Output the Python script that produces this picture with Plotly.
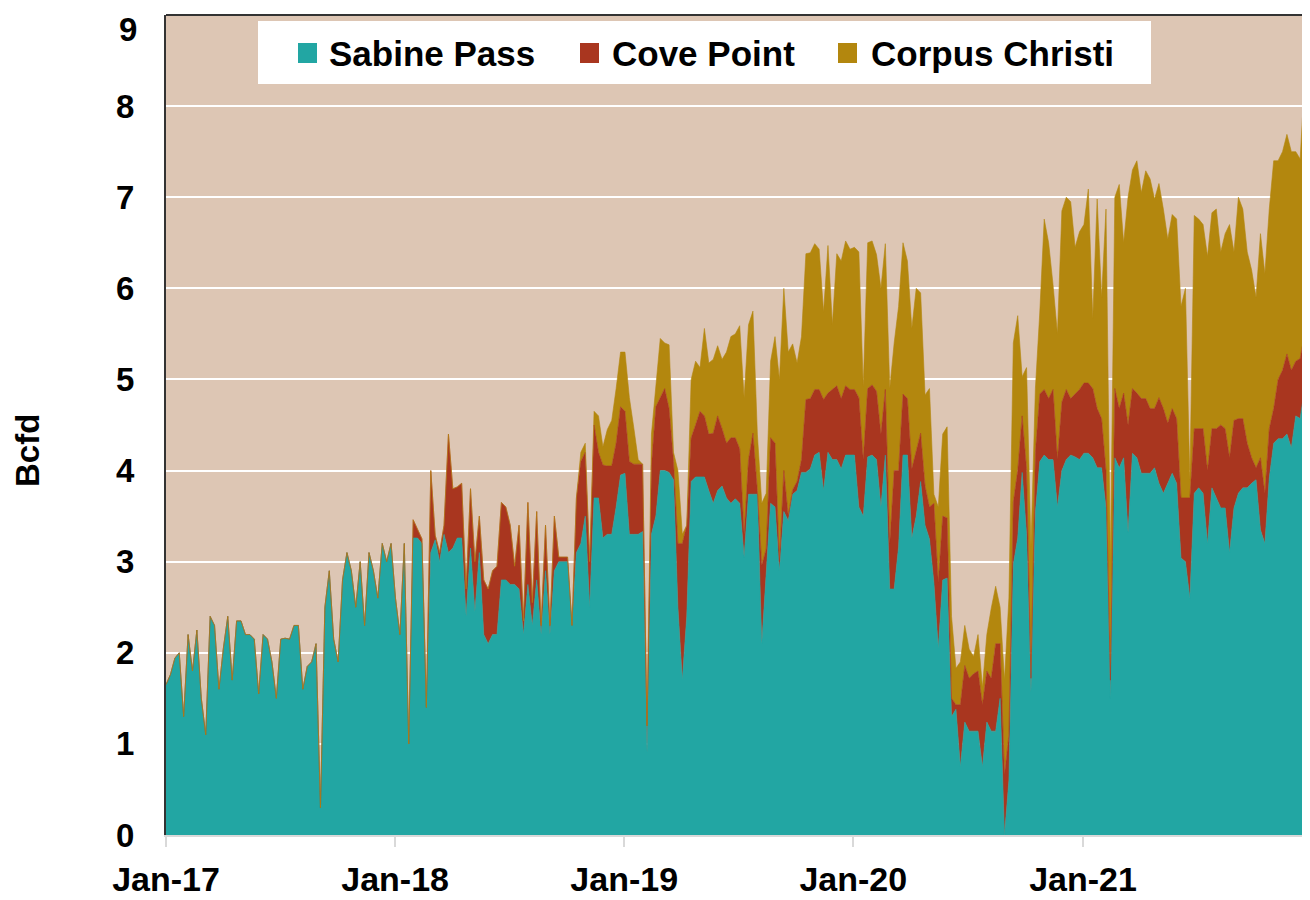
import pandas as pd
import plotly.graph_objects as go

# ---------------- data (Bcfd, roughly weekly readings) ----------------
series_names = ["Sabine Pass", "Cove Point", "Corpus Christi"]
series_colors = ["#22A6A3", "#A9361F", "#B3870E"]
year_ticks = ["2017-01-01", "2018-01-01", "2019-01-01", "2020-01-01", "2021-01-01"]
y_tick_values = [0, 1, 2, 3, 4, 5, 6, 7, 8, 9]

sabine_2017 = [1.65, 1.76, 1.94, 2.0, 1.3, 2.2, 1.8, 2.25, 1.5, 1.1, 2.4, 2.3, 1.6, 2.05, 2.4, 1.7,
               2.35, 2.35, 2.2, 2.2, 2.15, 1.55, 2.2, 2.15, 1.9, 1.5, 2.15, 2.16, 2.15, 2.3, 2.3, 1.6,
               1.85, 1.9, 2.1, 0.3, 2.5, 2.9, 2.15, 1.9, 2.8, 3.1, 2.9, 2.5, 3.0, 2.3, 3.1, 2.9,
               2.6, 3.2, 3.0, 3.2, 2.6]
cove_2017 = [0, 0, 0, 0, 0, 0, 0, 0, 0, 0, 0, 0, 0, 0, 0, 0, 0, 0, 0, 0, 0, 0, 0, 0, 0, 0, 0,
             0, 0, 0, 0, 0, 0, 0, 0, 0, 0, 0, 0, 0, 0, 0, 0, 0, 0, 0, 0, 0, 0, 0, 0, 0, 0]
corpus_2017 = [0, 0, 0, 0, 0, 0, 0, 0, 0, 0, 0, 0, 0, 0, 0, 0, 0, 0, 0, 0, 0, 0, 0, 0, 0, 0, 0,
               0, 0, 0, 0, 0, 0, 0, 0, 0, 0, 0, 0, 0, 0, 0, 0, 0, 0, 0, 0, 0, 0, 0, 0, 0, 0]

sabine_2018 = [2.2, 3.2, 1.0, 3.26, 3.26, 3.2, 1.4, 3.1, 3.24, 3.0, 3.3, 3.1, 3.15, 3.26, 3.26, 2.4,
               3.15, 2.45, 3.1, 2.2, 2.1, 2.2, 2.2, 2.8, 2.8, 2.75, 2.75, 2.7, 2.2, 2.75, 2.3, 2.8,
               2.2, 2.9, 2.2, 2.9, 3.0, 3.0, 3.0, 2.3, 3.1, 3.2, 3.5, 2.5, 3.7, 3.7, 3.26, 3.3,
               3.3, 3.6, 3.95]
cove_2018 = [0, 0, 0, 0.2, 0.1, 0.05, 0, 0.9, 0.05, 0.1, 0.1, 1.3, 0.65, 0.56, 0.6, 0.3, 0.65,
             0.55, 0.4, 0.6, 0.6, 0.7, 0.75, 0.85, 0.8, 0.65, 0.2, 0.7, 0.15, 0.9, 0.25, 0.75, 0.1,
             0.5, 0.1, 0.6, 0.05, 0.05, 0.05, 0, 0.6, 0.9, 0.7, 0.5, 0.8, 0.5, 0.8, 0.75, 0.75,
             0.7, 0.75]
corpus_2018 = [0, 0, 0, 0, 0, 0, 0, 0, 0, 0, 0, 0, 0, 0, 0, 0, 0, 0, 0, 0, 0, 0, 0, 0, 0, 0, 0,
               0, 0, 0, 0, 0, 0, 0, 0, 0, 0, 0, 0, 0, 0, 0.1, 0.1, 0, 0.15, 0.4, 0.2, 0.4, 0.5,
               0.6, 0.6]

sabine_2019 = [3.97, 3.3, 3.3, 3.3, 3.33, 0.9, 3.3, 3.5, 4.0, 4.0, 3.98, 3.9, 2.5, 1.7, 2.4, 3.88,
               3.93, 3.93, 3.93, 3.78, 3.64, 3.78, 3.83, 3.7, 3.64, 3.69, 3.64, 3.05, 3.74, 3.74,
               3.74, 2.1, 2.9, 3.64, 3.6, 2.9, 3.55, 3.45, 3.74, 3.78, 3.98, 3.98, 4.02, 4.17, 4.2,
               3.78, 4.2, 4.12, 4.12, 4.02, 4.17, 4.17]
cove_2019 = [0.68, 0.8, 0.77, 0.77, 0.74, 0.3, 0.75, 1.2, 0.8, 0.9, 0.7, 0.2, 0.7, 1.5, 1.0, 0.48,
             0.57, 0.72, 0.67, 0.62, 0.77, 0.82, 0.63, 0.6, 0.72, 0.67, 0.6, 0.25, 0.38, 0.67,
             0.04, 0.86, 0.24, 0.72, 0.7, 0.1, 0.45, 0.05, 0.05, 0.1, 0.14, 0.8, 0.77, 0.72, 0.69,
             1.0, 0.65, 0.77, 0.81, 0.77, 0.76, 0.72]
corpus_2019 = [0.65, 0.7, 0.4, 0.05, 0, 0, 0.35, 0.2, 0.65, 0.5, 0.7, 0.1, 0.8, 0.1, 0, 0.64, 0.7,
               0.48, 0.96, 0.78, 0.81, 0.77, 0.76, 1.0, 1.11, 1.14, 1.35, 1.5, 1.48, 1.34, 0.62,
               0.68, 0.61, 0.84, 1.17, 2.0, 2.0, 1.8, 1.6, 1.3, 1.35, 1.6, 1.6, 1.6, 1.54, 0.96,
               1.62, 0.71, 1.45, 1.51, 1.59, 1.54]

sabine_2020 = [4.17, 3.6, 3.5, 4.15, 4.17, 4.12, 3.6, 4.17, 2.7, 2.7, 3.16, 4.17, 4.17, 3.26, 3.5,
               3.88, 3.4, 3.25, 2.77, 2.05, 2.8, 2.82, 1.3, 1.38, 0.75, 1.24, 1.14, 1.14, 1.14, 0.75,
               1.24, 1.14, 1.14, 1.5, 0.0, 0.6, 2.97, 3.26, 3.98, 3.3, 1.57, 3.54, 4.1, 4.17, 4.12,
               4.12, 3.6, 4.0, 4.12, 4.17, 4.15, 4.12]
cove_2020 = [0.72, 1.2, 0.62, 0.75, 0.77, 0.75, 0.8, 0.72, 0.5, 1.3, 0.84, 0.67, 0.62, 0.76, 0.7,
             0.53, 0.43, 0.35, 0.87, 0.72, 0.7, 0.66, 0.2, 0.05, 0.68, 0.62, 0.58, 0.63, 0.66,
             0.68, 0.56, 0.58, 0.96, 0.6, 0.66, 0.5, 0.68, 0.74, 0.62, 0.72, 0.15, 0.66, 0.74,
             0.72, 0.67, 0.77, 0.52, 0.75, 0.77, 0.62, 0.69, 0.77]
corpus_2020 = [1.56, 1.6, 0.8, 1.6, 1.58, 1.5, 1.6, 1.6, 1.7, 1.4, 1.8, 1.66, 1.51, 1.54, 1.8, 1.54,
               1.0, 1.3, 0.1, 0.83, 0.9, 1.0, 0.9, 0.4, 0.47, 0.44, 0.32, 0.19, 0.4, 0.19, 0.4,
               0.77, 0.63, 0.4, 1.04, 1.5, 1.75, 1.7, 0.43, 1.11, 1.45, 0.7, 0.9, 1.87, 1.71, 1.15,
               1.38, 2.1, 2.11, 2.16, 1.61, 1.73]

sabine_2021 = [4.19, 4.19, 4.14, 4.03, 4.03, 3.59, 1.5, 4.14, 4.03, 4.14, 3.32, 4.19, 4.14, 3.97,
               3.97, 3.97, 4.03, 3.86, 3.75, 3.86, 3.97, 3.86, 3.04, 3.0, 2.6, 3.75, 3.81, 3.75,
               3.2, 3.81, 3.7, 3.59, 3.59, 3.1, 3.59, 3.75, 3.81, 3.81, 3.86, 3.9, 3.35, 3.2, 3.92,
               4.3, 4.35, 4.35, 4.4, 4.25, 4.6, 4.57, 4.9, 4.25]
cove_2021 = [0.77, 0.77, 0.76, 0.65, 0.54, 0.41, 0.2, 0.76, 0.65, 0.71, 1.18, 0.71, 0.71, 0.82,
             0.82, 0.71, 0.65, 0.94, 0.93, 0.66, 0.71, 0.71, 0.66, 0.7, 1.1, 0.71, 0.65, 0.71, 0.8,
             0.65, 0.76, 0.91, 0.87, 1.04, 0.96, 0.82, 0.76, 0.49, 0.28, 0.13, 0.79, 0.55, 0.54,
             0.38, 0.65, 0.75, 0.88, 0.85, 0.6, 0.66, 0.6, 0.75]
corpus_2021 = [1.74, 2.13, 0.77, 2.3, 1.33, 2.87, 1.3, 2.1, 2.46, 1.65, 2.5, 2.4, 2.55, 2.26, 2.5,
               2.52, 2.3, 2.35, 2.19, 2.02, 2.13, 2.19, 2.1, 2.3, 0.2, 2.34, 2.3, 2.24, 2.35, 2.37,
               2.41, 1.9, 2.14, 2.56, 1.85, 2.43, 2.3, 2.1, 2.06, 1.87, 2.46, 2.41, 2.41, 2.72, 2.4,
               2.4, 2.41, 2.4, 2.3, 2.19, 2.8, 2.5]

sabine = sabine_2017 + sabine_2018 + sabine_2019 + sabine_2020 + sabine_2021
cove = cove_2017 + cove_2018 + cove_2019 + cove_2020 + cove_2021
corpus = corpus_2017 + corpus_2018 + corpus_2019 + corpus_2020 + corpus_2021

dates = pd.date_range("2017-01-01", "2021-12-27", periods=len(sabine))

# ---------------- layout geometry (pixels) ----------------
# the page body has an 8px margin, so the figure is placed at (8, 8)
OFF = 8
W, H = 1302, 892
ML, MR, MT, MB = 158, 1, 7, 65
PW, PH = W - ML - MR, H - MT - MB


def px(xpage):
    return (xpage - OFF - ML) / PW


def py(ypage):
    return (H - MB - (ypage - OFF)) / PH


FONT = "Arial, 'Liberation Sans', sans-serif"
TICKFONT = dict(size=33, family=FONT, weight="bold", color="black")

fig = go.Figure()
for name, vals, col in zip(series_names, [sabine, cove, corpus], series_colors):
    fig.add_trace(go.Scatter(
        x=dates, y=vals, name=name, mode="lines",
        stackgroup="one", line=dict(color=col, width=0.6),
        fillcolor=col, showlegend=False,
    ))

fig.update_layout(
    width=W, height=H,
    margin=dict(l=ML, r=MR, t=MT, b=MB, autoexpand=False),
    paper_bgcolor="white",
    plot_bgcolor="#DDC6B4",
    font=dict(family=FONT, color="black"),
    showlegend=False,
)

fig.update_xaxes(
    type="date",
    range=["2017-01-01", "2021-12-27"],
    tickvals=year_ticks,
    tickformat="%b-%y",
    tickfont=dict(size=34, family=FONT, weight="bold"),
    ticks="outside", ticklen=10, tickwidth=2, tickcolor="#D9D9D9",
    showline=True, linecolor="#D9D9D9", linewidth=2,
    showgrid=False, zeroline=False,
    ticklabelstandoff=3,
    automargin=False,
)
fig.update_yaxes(
    range=[y_tick_values[0], y_tick_values[-1]],
    tickvals=y_tick_values[:-1],
    tickfont=TICKFONT,
    showgrid=True, gridcolor="white", gridwidth=1.5,
    showline=True, linecolor="#333333", linewidth=2, mirror=True,
    zeroline=False, ticks="",
    ticklabelstandoff=23,
    automargin=False,
)

# top tick label: kept just inside the page so it is not clipped
fig.add_annotation(text=str(y_tick_values[-1]), xref="paper", yref="paper",
                   x=px(139), y=py(9), xanchor="right", yanchor="top",
                   showarrow=False, font=TICKFONT)

# top frame line
fig.add_shape(type="line", xref="paper", yref="paper", x0=0, x1=1, y0=1, y1=1,
              line=dict(color="#333333", width=2))

# y-axis title
fig.add_annotation(text="Bcfd", xref="paper", yref="paper", x=px(27), y=py(451),
                   textangle=-90, showarrow=False, xanchor="center", yanchor="middle",
                   font=dict(size=33, family=FONT, weight="bold"))

# legend box
fig.add_shape(type="rect", xref="paper", yref="paper",
              x0=px(258), x1=px(1151), y0=py(84), y1=py(21),
              fillcolor="white", line=dict(width=0), layer="above")
swatch_x = [298, 580, 838]
text_x = [327, 610, 869]
for name, col, sx, tx in zip(series_names, series_colors, swatch_x, text_x):
    fig.add_shape(type="rect", xref="paper", yref="paper",
                  x0=px(sx), x1=px(sx + 19), y0=py(63), y1=py(43),
                  fillcolor=col, line=dict(width=0), layer="above")
    fig.add_annotation(text=name, xref="paper", yref="paper", x=px(tx), y=py(53),
                       showarrow=False, xanchor="left", yanchor="middle",
                       font=dict(size=35, family=FONT, weight="bold"))

fig.write_html("out.html")
